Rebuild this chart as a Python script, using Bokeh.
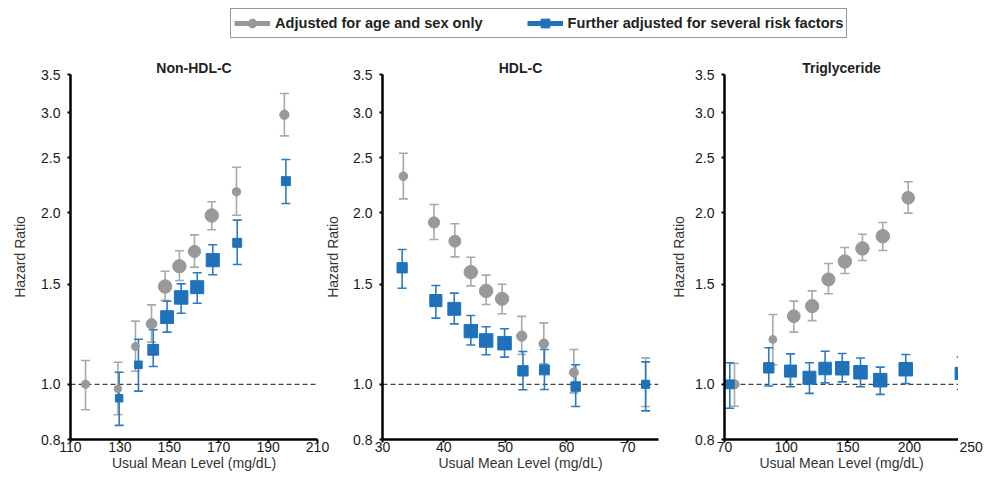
import numpy as np
from bokeh.plotting import figure
from bokeh.layouts import column, row
from bokeh.models import (Range1d, FixedTicker, PrintfTickFormatter, Span,
                          Legend, LegendItem, ColumnDataSource)
from bokeh.embed import file_html
from bokeh.resources import INLINE

FONT = "Liberation Sans"
GREY = "#999999"
GREY_BAR = "#a9a9a9"
BLUE = "#1f72ba"
BLUE_BAR = "#2b7bc2"

# ---------------- data ----------------
series_names = ["Adjusted for age and sex only", "Further adjusted for several risk factors"]
panel_titles = ["Non-HDL-C", "HDL-C", "Triglyceride"]
y_ticks = [0.8, 1.0, 1.5, 2.0, 2.5, 3.0, 3.5]

# Non-HDL-C
nonhdl_age_x = [116.1, 129.2, 136.3, 142.8, 148.3, 154.1, 160.2, 167.2, 177.2, 196.6]
nonhdl_age_hr = [1.000, 0.982, 1.165, 1.277, 1.485, 1.612, 1.711, 1.979, 2.178, 2.974]
nonhdl_age_lo = [0.902, 0.884, 1.054, 1.186, 1.404, 1.522, 1.606, 1.868, 1.981, 2.731]
nonhdl_age_hi = [1.101, 1.093, 1.291, 1.379, 1.580, 1.716, 1.830, 2.092, 2.406, 3.241]
nonhdl_adj_x = [129.7, 137.5, 143.5, 149.1, 154.8, 161.3, 167.6, 177.5, 197.2]
nonhdl_adj_hr = [0.945, 1.082, 1.150, 1.312, 1.421, 1.481, 1.652, 1.772, 2.274]
nonhdl_adj_lo = [0.847, 0.973, 1.075, 1.235, 1.333, 1.388, 1.557, 1.623, 2.077]
nonhdl_adj_hi = [1.050, 1.200, 1.247, 1.399, 1.501, 1.570, 1.758, 1.942, 2.482]
nonhdl_ticks = [110, 130, 150, 170, 190, 210]
nonhdl_tick_labels = ["110", "130", "150", "170", "190", "210"]

# HDL-C
hdl_age_x = [33.4, 38.4, 41.8, 44.4, 46.9, 49.5, 52.7, 56.3, 61.2, 72.9]
hdl_age_hr = [2.320, 1.924, 1.784, 1.574, 1.459, 1.413, 1.215, 1.178, 1.049, 1.000]
hdl_age_lo = [2.117, 1.796, 1.674, 1.489, 1.381, 1.330, 1.128, 1.086, 0.966, 0.914]
hdl_age_hi = [2.546, 2.069, 1.914, 1.672, 1.555, 1.499, 1.316, 1.282, 1.151, 1.113]
hdl_adj_x = [33.2, 38.7, 41.7, 44.4, 46.9, 49.9, 52.9, 56.4, 61.5, 72.9]
hdl_adj_hr = [1.602, 1.403, 1.357, 1.240, 1.194, 1.181, 1.056, 1.060, 0.991, 1.000]
hdl_adj_lo = [1.475, 1.307, 1.277, 1.172, 1.127, 1.116, 0.978, 0.979, 0.914, 0.898]
hdl_adj_hi = [1.725, 1.491, 1.446, 1.321, 1.262, 1.252, 1.142, 1.151, 1.082, 1.095]
hdl_ticks = [30, 40, 50, 60, 70]
hdl_tick_labels = ["30", "40", "50", "60", "70"]

# Triglyceride
trig_age_x = [58.1, 89.2, 106.2, 121.1, 134.3, 147.6, 161.9, 178.4, 199.0]
trig_age_hr = [1.000, 1.199, 1.317, 1.372, 1.528, 1.643, 1.732, 1.820, 2.126]
trig_age_lo = [0.915, 1.082, 1.235, 1.294, 1.442, 1.565, 1.650, 1.718, 1.998]
trig_age_hi = [1.088, 1.326, 1.400, 1.459, 1.630, 1.739, 1.835, 1.924, 2.268]
trig_adj_x = [54.3, 85.9, 103.5, 118.9, 131.6, 145.5, 160.3, 176.3, 197.0, 242.0]
trig_adj_hr = [1.000, 1.069, 1.055, 1.027, 1.066, 1.067, 1.050, 1.017, 1.063, 1.045]
trig_adj_lo = [0.908, 0.993, 0.990, 0.964, 1.006, 1.010, 0.990, 0.960, 1.003, 0.979]
trig_adj_hi = [1.091, 1.159, 1.131, 1.091, 1.143, 1.133, 1.112, 1.072, 1.128, 1.116]
trig_ticks = [50, 100, 150, 200]
trig_tick_labels = ["70", "100", "150", "200"]
trig_range = (50, 239.8)
trig_extra_ticks = [250]
trig_extra_tick_labels = ["250"]


def marker_sizes(lo, hi):
    # inverse-precision weighting: marker side proportional to 1 / CI width (log scale)
    w = np.log(np.array(hi) / np.array(lo))
    return np.clip(1.6 / w, 6.5, 13.5)


def add_series(p, x, hr, lo, hi, bar_color):
    src = ColumnDataSource(dict(x=x, hr=hr, lo=lo, hi=hi, s=marker_sizes(lo, hi)))
    p.segment(x0="x", x1="x", y0="lo", y1="hi", source=src, line_color=bar_color, line_width=1.6)
    p.scatter(x="x", y="hi", source=src, marker="dash", size=9, line_color=bar_color, line_width=1.6)
    p.scatter(x="x", y="lo", source=src, marker="dash", size=9, line_color=bar_color, line_width=1.6)
    return src


def style_axis(ax):
    ax.axis_line_color = "black"
    ax.axis_line_width = 2.5
    ax.major_tick_line_color = "black"
    ax.major_tick_line_width = 2
    ax.minor_tick_line_color = None
    ax.major_label_text_font = FONT
    ax.major_label_text_font_size = "14px"
    ax.major_label_text_color = "#1a1a1a"
    ax.axis_label_text_font = FONT
    ax.axis_label_text_font_size = "14px"
    ax.axis_label_text_font_style = "normal"
    ax.axis_label_text_color = "#333333"


def make_panel(title, xr, ticks, tick_labels, age, adj, width, left, right, lab_standoff, t_off,
               margin=None):
    p = figure(width=width, height=430, x_range=Range1d(*xr), y_range=Range1d(0.8, 3.5),
               y_axis_type="log", output_backend="svg", toolbar_location=None,
               min_border_left=left, min_border_right=right, min_border_top=26, min_border_bottom=39)
    if margin is not None:
        p.margin = margin
    p.grid.visible = False
    p.outline_line_color = None
    p.background_fill_color = "white"
    p.border_fill_color = None

    span = Span(location=1.0, dimension="width", line_color="#444444", line_width=1.2,
                line_dash="5 3", level="underlay")
    p.add_layout(span)

    sa = add_series(p, *age, GREY_BAR)
    sb = add_series(p, *adj, BLUE_BAR)
    p.scatter(x="x", y="hr", source=sa, marker="circle", size="s", fill_color=GREY, line_color=GREY)
    p.scatter(x="x", y="hr", source=sb, marker="square", size="s", fill_color=BLUE, line_color=BLUE)

    p.title.text = title
    p.title.align = "center"
    p.title.offset = t_off
    p.title.text_font = FONT
    p.title.text_font_size = "14px"
    p.title.text_font_style = "bold"
    p.title.text_color = "#222222"
    p.title.standoff = -2

    xa = p.xaxis[0]
    xa.ticker = FixedTicker(ticks=ticks, minor_ticks=[])
    xa.major_label_overrides = {t: l for t, l in zip(ticks, tick_labels)}
    xa.axis_label = "Usual Mean Level (mg/dL)"
    xa.axis_label_standoff = 0
    xa.major_label_standoff = -1
    xa.major_tick_out = 3
    xa.major_tick_in = 0

    ya = p.yaxis[0]
    ya.ticker = FixedTicker(ticks=y_ticks, minor_ticks=[])
    ya.formatter = PrintfTickFormatter(format="%.1f")
    ya.axis_label = "Hazard Ratio"
    ya.axis_label_standoff = lab_standoff
    ya.major_label_standoff = 7
    ya.major_tick_out = 3
    ya.major_tick_in = 0

    style_axis(xa)
    style_axis(ya)
    return p


p1 = make_panel(panel_titles[0], (110, 210), nonhdl_ticks, nonhdl_tick_labels,
                (nonhdl_age_x, nonhdl_age_hr, nonhdl_age_lo, nonhdl_age_hi),
                (nonhdl_adj_x, nonhdl_adj_hr, nonhdl_adj_lo, nonhdl_adj_hi),
                width=330, left=70, right=13, lab_standoff=10, t_off=7)
# the HDL panel's left border overlaps the end of the first panel's x axis (transparent border)
p2 = make_panel(panel_titles[1], (30, 75), hdl_ticks, hdl_tick_labels,
                (hdl_age_x, hdl_age_hr, hdl_age_lo, hdl_age_hi),
                (hdl_adj_x, hdl_adj_hr, hdl_adj_lo, hdl_adj_hi),
                width=349, left=66, right=7, lab_standoff=9, t_off=-10, margin=(0, 0, 0, -14))
p3 = make_panel(panel_titles[2], trig_range, trig_ticks, trig_tick_labels,
                (trig_age_x, trig_age_hr, trig_age_lo, trig_age_hi),
                (trig_adj_x, trig_adj_hr, trig_adj_lo, trig_adj_hi),
                width=293, left=59, right=0, lab_standoff=5, t_off=14)

# continuation strip of the triglyceride x scale: carries the last tick label ("250"),
# which sits beyond the end of the drawn axis line
P3_FRAME_W = 293 - 59
strip_w = 33
px_per_unit = P3_FRAME_W / (trig_range[1] - trig_range[0])
p4 = figure(width=strip_w, height=430,
            x_range=Range1d(trig_range[1], trig_range[1] + strip_w / px_per_unit),
            y_range=Range1d(0.8, 3.5), y_axis_type="log", output_backend="svg",
            toolbar_location=None, y_axis_location=None,
            min_border_left=0, min_border_right=0, min_border_top=26, min_border_bottom=39)
p4.grid.visible = False
p4.outline_line_color = None
p4.border_fill_color = None
xa4 = p4.xaxis[0]
xa4.ticker = FixedTicker(ticks=trig_extra_ticks, minor_ticks=[])
xa4.major_label_overrides = {t: l for t, l in zip(trig_extra_ticks, trig_extra_tick_labels)}
style_axis(xa4)
xa4.axis_line_color = None
xa4.major_tick_line_color = None
xa4.major_tick_out = 3
xa4.major_label_standoff = -1

# ---------------- legend strip ----------------
lg = figure(width=991, height=48, x_range=(0, 1), y_range=(0, 1), output_backend="svg",
            toolbar_location=None, x_axis_location=None, y_axis_location=None,
            min_border=0)
lg.grid.visible = False
lg.outline_line_color = None
r1l = lg.line(x=[-2, -1], y=[-2, -2], line_color=GREY, line_width=5)
r1m = lg.scatter(x=[-2], y=[-2], marker="circle", size=13, fill_color=GREY, line_color=GREY)
r2l = lg.line(x=[-2, -1], y=[-2, -2], line_color=BLUE, line_width=5)
r2m = lg.scatter(x=[-2], y=[-2], marker="square", size=12, fill_color=BLUE, line_color=BLUE)
legend = Legend(items=[LegendItem(label=series_names[0], renderers=[r1l, r1m]),
                       LegendItem(label=series_names[1], renderers=[r2l, r2m])],
                location=(230, 10), orientation="horizontal",
                glyph_width=36, glyph_height=22, label_height=16, label_standoff=5,
                spacing=44, padding=3, margin=0,
                border_line_color="#333333", border_line_width=1,
                label_text_font=FONT, label_text_font_size="14.6px",
                label_text_font_style="bold", label_text_color="#222222")
lg.add_layout(legend, "center")

layout = column(lg, row(p1, p2, p3, p4, spacing=0), spacing=0)
open("out.html", "w").write(file_html(layout, INLINE))
